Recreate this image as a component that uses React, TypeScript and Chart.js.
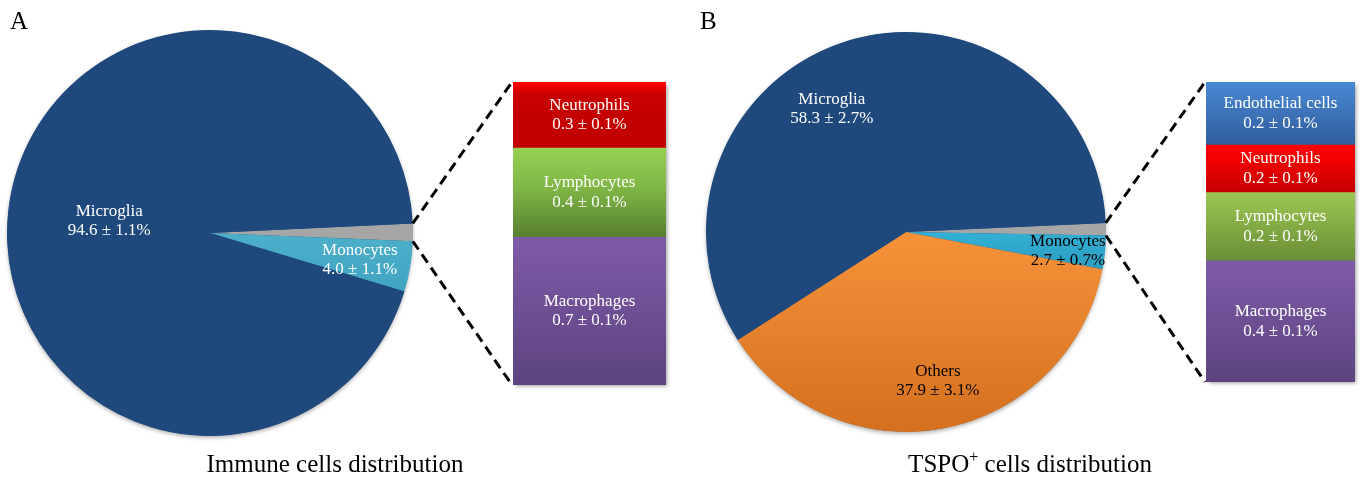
import React, { useEffect, useRef } from 'react';
import { Chart, registerables } from 'chart.js';

Chart.register(...registerables);

// ---------- Data ----------
// Panel A: immune cells distribution (pie, clockwise from 3 o'clock)
const immuneSlices = ['Other immune cells', 'Monocytes', 'Microglia'];
const immuneShares = [1.4, 4.0, 94.6];
const immuneErrors = [0, 1.1, 1.1];
// Panel A: breakdown of the grey slice (stacked bar, top to bottom)
const immuneSubTypes = ['Neutrophils', 'Lymphocytes', 'Macrophages'];
const immuneSubShares = [0.3, 0.41, 0.68];
const immuneSubErrors = [0.1, 0.1, 0.1];

// Panel B: TSPO+ cells distribution
const tspoSlices = ['Other TSPO+ cells', 'Monocytes', 'Others', 'Microglia'];
const tspoShares = [1.0, 2.7, 37.9, 58.3];
const tspoErrors = [0, 0.7, 3.1, 2.7];
const tspoSubTypes = ['Endothelial cells', 'Neutrophils', 'Lymphocytes', 'Macrophages'];
const tspoSubShares = [0.21, 0.16, 0.23, 0.41];
const tspoSubErrors = [0.1, 0.1, 0.1, 0.1];

const panelTitles = ['Immune cells distribution', 'TSPO'];
const panelLetters = ['A', 'B'];

// ---------- Styles ----------
const FONT = '"Liberation Serif", "Times New Roman", serif';
type Stops = [number, string][];
type SliceStyle = { stops: Stops; text: string | null; angle: number; frac: number };

const NAVY: Stops = [[0, '#1F497D'], [1, '#1F497D']];
const GREY: Stops = [[0, '#A6A6A6'], [1, '#A6A6A6']];

const immuneSliceStyles: SliceStyle[] = [
  { stops: GREY, text: null, angle: 0, frac: 0 },
  { stops: [[0, '#52B8D2'], [0.5, '#4DB0CA'], [0.65, '#40A3C0'], [1, '#3A96B2']], text: '#FFFFFF', angle: 10.2, frac: 0.75 },
  { stops: NAVY, text: '#FFFFFF', angle: 186.8, frac: 0.5 },
];
const tspoSliceStyles: SliceStyle[] = [
  { stops: GREY, text: null, angle: 0, frac: 0 },
  { stops: [[0, '#38BDE2'], [0.47, '#35B7DD'], [0.62, '#2A96B9'], [1, '#2388A8']], text: '#000000', angle: 6.7, frac: 0.815 },
  { stops: [[0, '#F89A48'], [0.5, '#F7923A'], [1, '#D4701E']], text: '#000000', angle: 77.9, frac: 0.76 },
  { stops: NAVY, text: '#FFFFFF', angle: 239, frac: 0.72 },
];

const immuneBarStyles: Stops[] = [
  [[0, '#FF0000'], [0.2, '#C80000'], [1, '#C00000']],
  [[0, '#95D253'], [0.45, '#80B646'], [1, '#567F31']],
  [[0, '#7E5BA7'], [1, '#5D4380']],
];
const tspoBarStyles: Stops[] = [
  [[0, '#4A88D2'], [1, '#2F5E9E']],
  [[0, '#FF0000'], [0.35, '#F00000'], [1, '#C60000']],
  [[0, '#9DC852'], [1, '#6A8E37']],
  [[0, '#7E5BA7'], [1, '#5D4380']],
];

const PIE_PAD = 7;

function gradient(ctx: CanvasRenderingContext2D, y0: number, y1: number, stops: Stops) {
  const g = ctx.createLinearGradient(0, y0, 0, y1);
  stops.forEach(([o, c]) => g.addColorStop(o, c));
  return g;
}

function fmt(v: number, e: number) {
  return `${v.toFixed(1)} \u00B1 ${e.toFixed(1)}%`;
}

function drawTwoLines(ctx: CanvasRenderingContext2D, x: number, y: number, a: string, b: string, color: string) {
  ctx.save();
  ctx.fillStyle = color;
  ctx.font = `17px ${FONT}`;
  ctx.textAlign = 'center';
  ctx.textBaseline = 'middle';
  ctx.fillText(a, x, y - 9.5);
  ctx.fillText(b, x, y + 10);
  ctx.restore();
}

function makePie(
  canvas: HTMLCanvasElement,
  labels: string[],
  values: number[],
  errors: number[],
  styles: SliceStyle[],
  rotation: number
) {
  const shadow = {
    id: 'pieShadow',
    beforeDatasetsDraw(chart: any) {
      const el = chart.getDatasetMeta(0).data[0];
      if (!el) return;
      const ctx = chart.ctx;
      ctx.save();
      ctx.shadowColor = 'rgba(0,0,0,0.35)';
      ctx.shadowBlur = 4;
      ctx.shadowOffsetY = 2;
      ctx.fillStyle = '#1F497D';
      ctx.beginPath();
      ctx.arc(el.x, el.y, el.outerRadius - 0.5, 0, Math.PI * 2);
      ctx.fill();
      ctx.restore();
    },
  };
  const sliceLabels = {
    id: 'sliceLabels',
    afterDatasetsDraw(chart: any) {
      const meta = chart.getDatasetMeta(0);
      meta.data.forEach((el: any, i: number) => {
        const st = styles[i];
        if (!st.text) return;
        const a = (st.angle * Math.PI) / 180;
        const r = el.outerRadius * st.frac;
        drawTwoLines(chart.ctx, el.x + r * Math.cos(a), el.y + r * Math.sin(a), labels[i], fmt(values[i], errors[i]), st.text);
      });
    },
  };
  return new Chart(canvas, {
    type: 'pie',
    data: {
      labels,
      datasets: [
        {
          data: values,
          borderWidth: 0,
          offset: 0,
          hoverOffset: 0,
          backgroundColor: (c: any) => {
            const st = styles[c.dataIndex];
            const area = c.chart.chartArea;
            if (!area || st === undefined) return st ? st.stops[0][1] : '#999';
            return gradient(c.chart.ctx, area.top, area.bottom, st.stops);
          },
        } as any,
      ],
    },
    options: {
      animation: false,
      responsive: false,
      events: [],
      rotation,
      layout: { padding: PIE_PAD },
      plugins: { legend: { display: false }, tooltip: { enabled: false } },
    },
    plugins: [shadow, sliceLabels],
  });
}

function makeBar(canvas: HTMLCanvasElement, labels: string[], values: number[], errors: number[], styles: Stops[], padR: number, padB: number) {
  const total = values.reduce((s, v) => s + v, 0);
  const shadow = {
    id: 'barShadow',
    beforeDatasetsDraw(chart: any) {
      const a = chart.chartArea;
      const ctx = chart.ctx;
      ctx.save();
      ctx.shadowColor = 'rgba(0,0,0,0.4)';
      ctx.shadowBlur = 4;
      ctx.shadowOffsetX = 2;
      ctx.shadowOffsetY = 2;
      ctx.fillStyle = '#777';
      ctx.fillRect(a.left + 1, a.top + 1, a.right - a.left - 2, a.bottom - a.top - 2);
      ctx.restore();
    },
  };
  const segLabels = {
    id: 'segLabels',
    afterDatasetsDraw(chart: any) {
      labels.forEach((lab, i) => {
        const el = chart.getDatasetMeta(i).data[0];
        if (!el) return;
        drawTwoLines(chart.ctx, el.x, (el.y + el.base) / 2, lab, fmt(values[i], errors[i]), '#FFFFFF');
      });
    },
  };
  return new Chart(canvas, {
    type: 'bar',
    data: {
      labels: [''],
      datasets: labels.map((lab, i) => ({
        label: lab,
        data: [values[i]],
        borderWidth: 0,
        barPercentage: 1,
        categoryPercentage: 1,
        backgroundColor: (c: any) => {
          const y = c.chart.scales && c.chart.scales.y;
          if (!y) return styles[i][0][1];
          let start = 0;
          for (let k = 0; k < i; k++) start += values[k];
          const y0 = y.getPixelForValue(start);
          const y1 = y.getPixelForValue(start + values[i]);
          if (!isFinite(y0) || !isFinite(y1) || y0 === y1) return styles[i][0][1];
          return gradient(c.chart.ctx, Math.min(y0, y1), Math.max(y0, y1), styles[i]);
        },
      })) as any,
    },
    options: {
      animation: false,
      responsive: false,
      events: [],
      layout: { padding: { left: 0, top: 0, right: padR, bottom: padB } },
      scales: {
        x: { display: false, stacked: true },
        y: { display: false, stacked: true, reverse: true, min: 0, max: total },
      },
      plugins: { legend: { display: false }, tooltip: { enabled: false } },
    },
    plugins: [shadow, segLabels],
  });
}

const POS = {
  pieA: { left: 0, top: 23, size: 420 },
  pieB: { left: 699, top: 25, size: 414 },
  barA: { left: 513, top: 82, width: 160, height: 310 },
  barB: { left: 1206, top: 82, width: 156, height: 307 },
};

export default function App() {
  const pieARef = useRef<HTMLCanvasElement>(null);
  const pieBRef = useRef<HTMLCanvasElement>(null);
  const barARef = useRef<HTMLCanvasElement>(null);
  const barBRef = useRef<HTMLCanvasElement>(null);
  const overlayRef = useRef<HTMLCanvasElement>(null);

  useEffect(() => {
    const pieA = makePie(pieARef.current!, immuneSlices, immuneShares, immuneErrors, immuneSliceStyles, 87.3);
    const pieB = makePie(pieBRef.current!, tspoSlices, tspoShares, tspoErrors, tspoSliceStyles, 87.4);
    const barA = makeBar(barARef.current!, immuneSubTypes, immuneSubShares, immuneSubErrors, immuneBarStyles, 7, 7);
    const barB = makeBar(barBRef.current!, tspoSubTypes, tspoSubShares, tspoSubErrors, tspoBarStyles, 7, 7);

    const ov = overlayRef.current!;
    const ctx = ov.getContext('2d')!;
    ctx.clearRect(0, 0, ov.width, ov.height);
    const connect = (pie: any, pPos: any, bar: any, bPos: any) => {
      const arc = pie.getDatasetMeta(0).data[0] as any;
      const n = bar.data.datasets.length;
      const top = bar.getDatasetMeta(0).data[0] as any;
      const bottom = bar.getDatasetMeta(n - 1).data[0] as any;
      const r = arc.outerRadius;
      const sx = pPos.left + arc.x + r * Math.cos(arc.startAngle);
      const sy = pPos.top + arc.y + r * Math.sin(arc.startAngle);
      const ex = pPos.left + arc.x + r * Math.cos(arc.endAngle);
      const ey = pPos.top + arc.y + r * Math.sin(arc.endAngle);
      const bx = bPos.left + top.x - top.width / 2;
      const by0 = bPos.top + Math.min(top.y, top.base);
      const by1 = bPos.top + Math.max(bottom.y, bottom.base);
      ctx.save();
      ctx.strokeStyle = '#000000';
      ctx.lineWidth = 3;
      ctx.setLineDash([10, 6]);
      ctx.beginPath();
      ctx.moveTo(sx, sy);
      ctx.lineTo(bx - 1, by0);
      ctx.moveTo(ex, ey);
      ctx.lineTo(bx - 1, by1);
      ctx.stroke();
      ctx.restore();
    };
    connect(pieA, POS.pieA, barA, POS.barA);
    connect(pieB, POS.pieB, barB, POS.barB);

    return () => {
      pieA.destroy();
      pieB.destroy();
      barA.destroy();
      barB.destroy();
    };
  }, []);

  const abs = (p: any): React.CSSProperties => ({
    position: 'absolute',
    left: p.left,
    top: p.top,
    width: p.width ?? p.size,
    height: p.height ?? p.size,
  });

  const textStyle = (left: number, top: number, size: number, extra: React.CSSProperties = {}): React.CSSProperties => ({
    position: 'absolute',
    left,
    top,
    fontFamily: FONT,
    fontSize: size,
    lineHeight: 1,
    color: '#000',
    whiteSpace: 'nowrap',
    ...extra,
  });

  return (
    <div style={{ position: 'absolute', left: 0, top: 0, width: 1363, height: 481, background: '#fff', overflow: 'hidden' }}>
      <canvas ref={pieARef} width={POS.pieA.size} height={POS.pieA.size} style={abs(POS.pieA)} />
      <canvas ref={pieBRef} width={POS.pieB.size} height={POS.pieB.size} style={abs(POS.pieB)} />
      <canvas ref={barARef} width={POS.barA.width} height={POS.barA.height} style={abs(POS.barA)} />
      <canvas ref={barBRef} width={POS.barB.width} height={POS.barB.height} style={abs(POS.barB)} />
      <canvas ref={overlayRef} width={1363} height={481} style={{ position: 'absolute', left: 0, top: 0, width: 1363, height: 481, pointerEvents: 'none' }} />
      <div style={textStyle(10, 7.5, 25)}>{panelLetters[0]}</div>
      <div style={textStyle(700, 7.5, 25)}>{panelLetters[1]}</div>
      <div style={textStyle(335, 451, 25, { transform: 'translateX(-50%)' })}>{panelTitles[0]}</div>
      <div style={textStyle(1030, 451, 25, { transform: 'translateX(-50%)' })}>
        {panelTitles[1]}
        <sup style={{ fontSize: 16, lineHeight: 0, verticalAlign: 'baseline', position: 'relative', top: -10 }}>+</sup>
        {' cells distribution'}
      </div>
    </div>
  );
}
